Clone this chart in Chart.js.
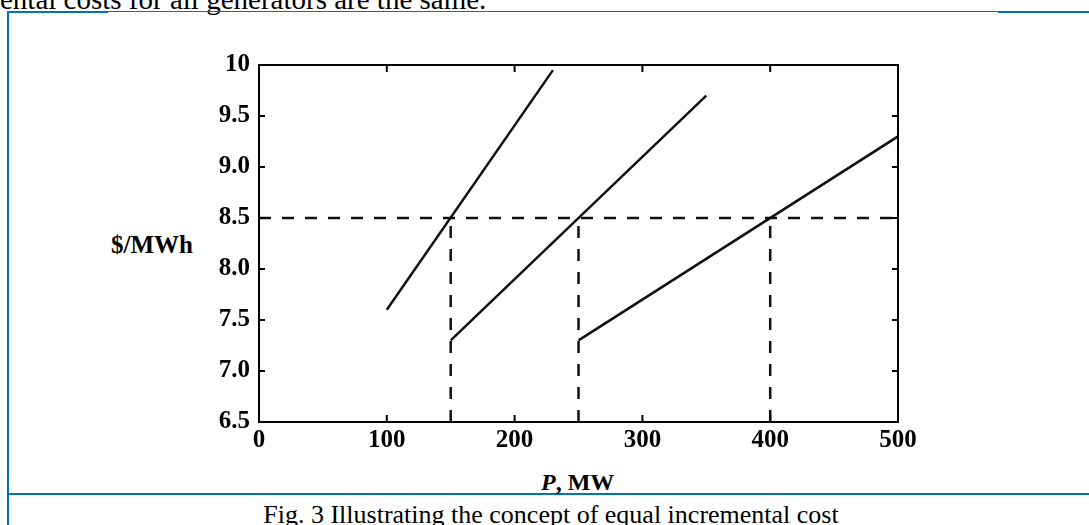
<!DOCTYPE html>
<html>
<head>
<meta charset="utf-8">
<script src="https://cdn.jsdelivr.net/npm/chart.js@4.4.1/dist/chart.umd.min.js"></script>
<style>
  html, body { margin: 0; padding: 0; background: #fff; }
  #page { position: relative; width: 1089px; height: 525px; overflow: hidden; background: #fff; }
  .txt { position: absolute; white-space: nowrap; line-height: 1; color: #000; font-family: 'Liberation Serif', 'Times New Roman', serif; }
  .blue { position: absolute; background: #0070C0; }
  #chart { position: absolute; left: 0; top: 0; }
</style>
</head>
<body>
<div id="page">
  <div class="txt" style="left:0px; top:-15px; font-size:29px;">ental costs for all generators are the same.</div>
  <div class="blue" style="left:7px; top:11px; width:2px; height:514px;"></div>
  <div class="blue" style="left:7px; top:11px; width:101px; height:2px;"></div>
  <div class="blue" style="left:108px; top:11px; width:890px; height:1px;"></div>
  <div class="blue" style="left:998px; top:11px; width:91px; height:2px;"></div>
  <div class="blue" style="left:7px; top:493px; width:1082px; height:2px;"></div>
  <div class="txt" style="left:111px; top:232px; font-size:25px; font-weight:bold;">$/MWh</div>
  <div class="txt" style="left:541px; top:470px; font-size:24px; font-weight:bold;"><i>P</i>, MW</div>
  <div class="txt" style="left:0; width:1102px; text-align:center; top:502px; font-size:26px;">Fig. 3 Illustrating the concept of equal incremental cost</div>
  <canvas id="chart" width="1089" height="525"></canvas>
</div>
<script>
// ---- data ----
const gen1P = [100, 230];
const gen1Cost = [7.6, 9.95];
const gen2P = [150, 350];
const gen2Cost = [7.3, 9.7];
const gen3P = [250, 500];
const gen3Cost = [7.3, 9.3];
const lambdaCost = 8.5;
const dispatchP = [150, 250, 400];
const xRange = [0, 500];
const yRange = [6.5, 10];
const xTicks = [0, 100, 200, 300, 400, 500];
const xTickLabels = ['0', '100', '200', '300', '400', '500'];
const yTicks = [6.5, 7.0, 7.5, 8.0, 8.5, 9.0, 9.5, 10];
const yTickLabels = ['6.5', '7.0', '7.5', '8.0', '8.5', '9.0', '9.5', '10'];

const toPts = (xs, ys) => xs.map((v, i) => ({ x: v, y: ys[i] }));

const solid = { borderColor: '#111', borderWidth: 2.5, pointRadius: 0, showLine: true, fill: false, tension: 0 };
const dashed = Object.assign({}, solid, { borderDash: [12, 11], borderWidth: 2.5 });

const datasets = [
  Object.assign({ data: toPts(gen1P, gen1Cost) }, solid),
  Object.assign({ data: toPts(gen2P, gen2Cost) }, solid),
  Object.assign({ data: toPts(gen3P, gen3Cost) }, solid),
  Object.assign({ data: toPts(xRange, [lambdaCost, lambdaCost]) }, dashed),
].concat(dispatchP.map(p => Object.assign({ data: toPts([p, p], [yRange[0], lambdaCost]) }, dashed)));

const tickFont = { family: "'Liberation Serif', 'Times New Roman', serif", size: 25, weight: 'bold' };

const frameTicks = {
  id: 'frameTicks',
  afterDatasetsDraw(chart) {
    const { ctx, chartArea: a, scales: { x, y } } = chart;
    ctx.save();
    ctx.strokeStyle = '#000';
    ctx.lineWidth = 2;
    ctx.strokeRect(a.left, a.top, a.right - a.left, a.bottom - a.top);
    ctx.beginPath();
    x.ticks.forEach(t => {
      const px = x.getPixelForValue(t.value);
      if (px <= a.left + 1 || px >= a.right - 1) return;
      ctx.moveTo(px, a.bottom); ctx.lineTo(px, a.bottom - 7);
      ctx.moveTo(px, a.top); ctx.lineTo(px, a.top + 7);
    });
    y.ticks.forEach(t => {
      const py = y.getPixelForValue(t.value);
      if (py <= a.top + 1 || py >= a.bottom - 1) return;
      ctx.moveTo(a.left, py); ctx.lineTo(a.left + 6, py);
      ctx.moveTo(a.right, py); ctx.lineTo(a.right - 6, py);
    });
    ctx.stroke();
    ctx.restore();
  }
};

new Chart(document.getElementById('chart'), {
  type: 'scatter',
  data: { datasets },
  options: {
    responsive: false,
    animation: false,
    devicePixelRatio: 1,
    layout: { padding: { left: 0, top: 65, right: 191, bottom: 0 } },
    plugins: { legend: { display: false }, tooltip: { enabled: false } },
    scales: {
      x: {
        type: 'linear', min: xRange[0], max: xRange[1],
        grid: { display: false, drawTicks: false },
        border: { display: false },
        afterBuildTicks: s => { s.ticks = xTicks.map(v => ({ value: v })); },
        afterFit: s => { s.height = 103; },
        ticks: {
          font: tickFont, color: '#000', padding: 4, maxRotation: 0, autoSkip: false,
          callback: (v, i) => xTickLabels[i]
        }
      },
      y: {
        type: 'linear', min: yRange[0], max: yRange[1],
        grid: { display: false, drawTicks: false },
        border: { display: false },
        afterBuildTicks: s => { s.ticks = yTicks.map(v => ({ value: v })); },
        afterFit: s => { s.width = 259; },
        ticks: {
          font: tickFont, color: '#000', padding: 9, autoSkip: false,
          callback: (v, i) => yTickLabels[i]
        }
      }
    }
  },
  plugins: [frameTicks]
});
</script>
</body>
</html>
